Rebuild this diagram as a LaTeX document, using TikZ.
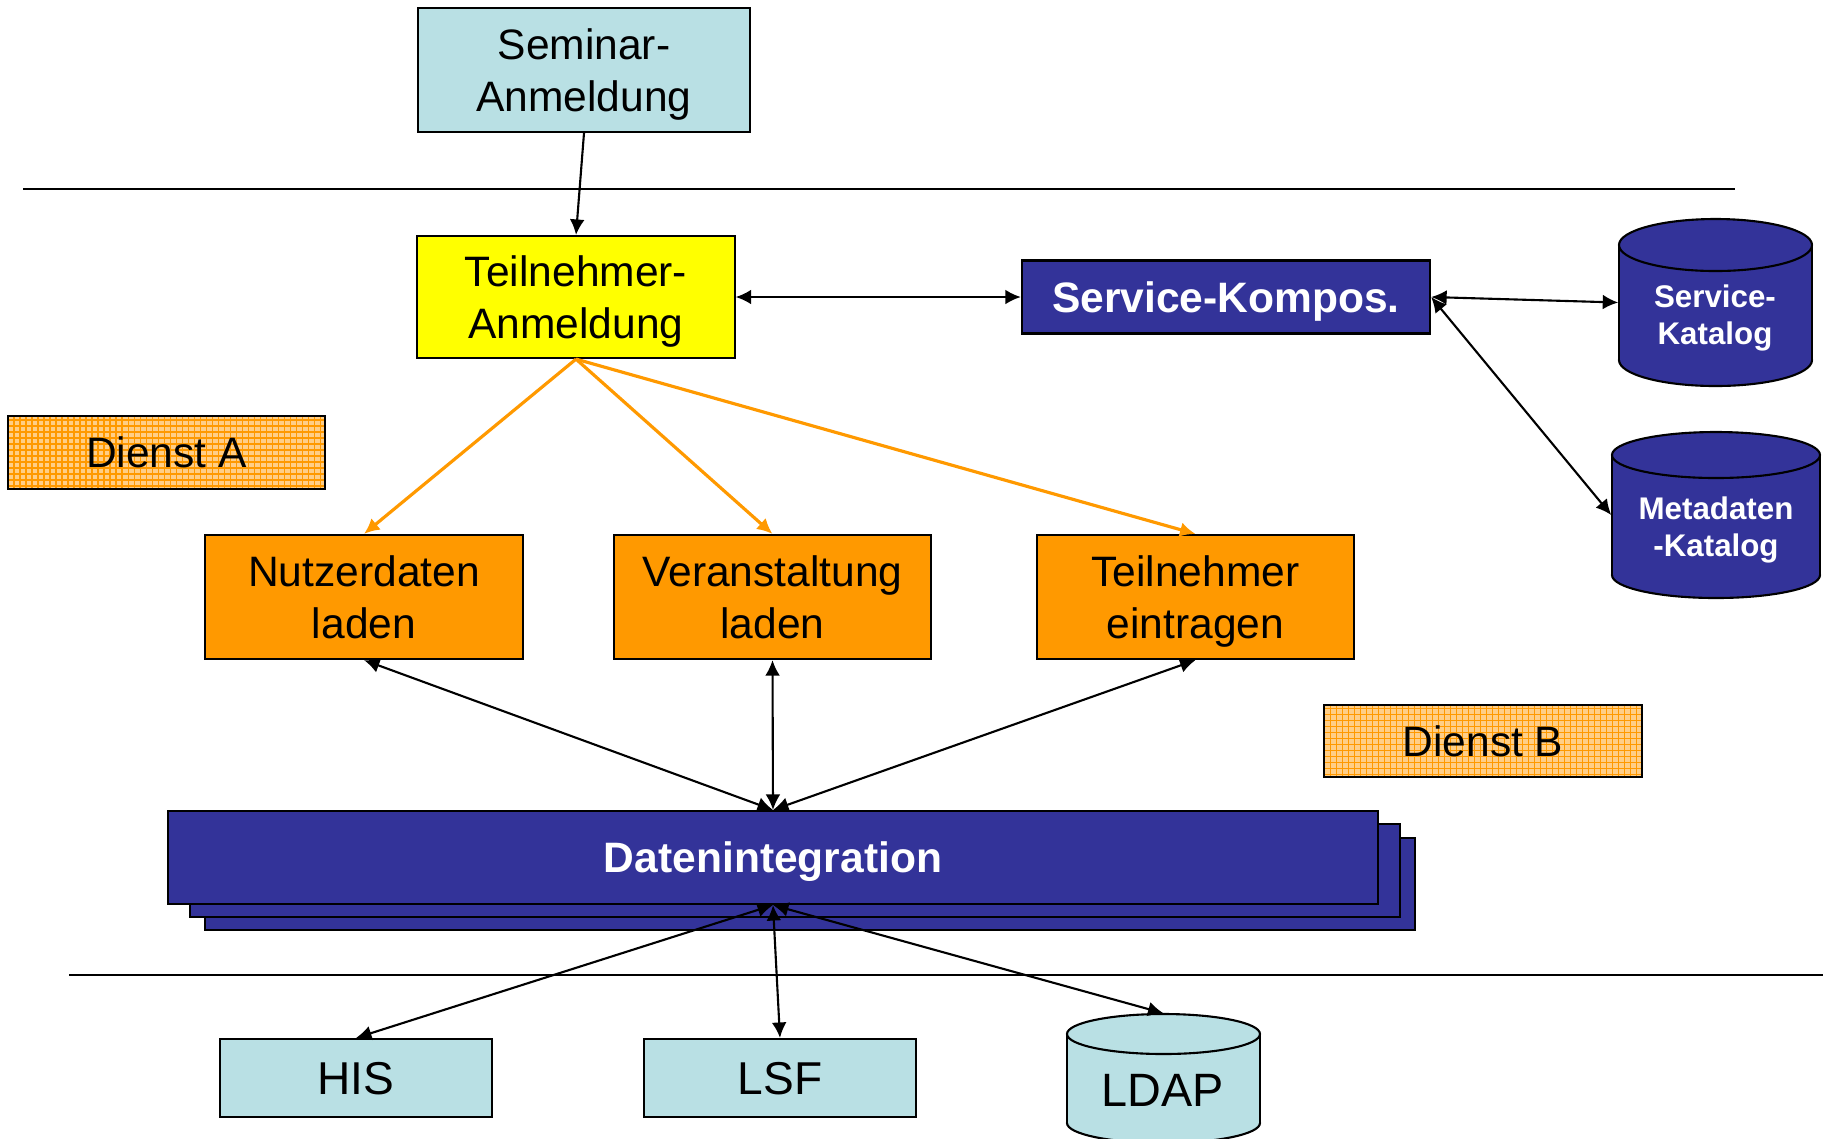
\documentclass[tikz,border=0pt]{standalone}
\usepackage{fontspec}
\setmainfont{Liberation Sans}
\usetikzlibrary{arrows.meta}

\definecolor{paleteal}{RGB}{185,224,228}
\definecolor{deepblue}{RGB}{51,51,153}
\definecolor{amber}{RGB}{255,153,0}
\definecolor{lightamber}{RGB}{255,206,135}
\definecolor{brightyellow}{RGB}{255,255,0}

% database drum: left x, right x, top y, bottom y, ellipse y radius, fill colour
\newcommand\drumshape[6]{%
  \filldraw[fill=#6, line width=0.6pt] ({(#1+#2)/2},{#4-#5}) ellipse [x radius={(#2-#1)/2}, y radius=#5];
  \fill[#6] (#1,{#3+#5}) rectangle (#2,{#4-#5});
  \draw[line width=0.6pt] (#1,{#3+#5}) -- (#1,{#4-#5}) (#2,{#3+#5}) -- (#2,{#4-#5});
  \filldraw[fill=#6, line width=0.6pt] ({(#1+#2)/2},{#3+#5}) ellipse [x radius={(#2-#1)/2}, y radius=#5];
}

\begin{document}
\begin{tikzpicture}[x=0.01cm, y=-0.01cm,
  base/.style={draw, line width=0.6pt, inner sep=0pt, align=center,
    text depth=0pt, font=\fontsize{12.1}{14.6}\selectfont},
  tealbox/.style={base, fill=paleteal},
  yellowbox/.style={base, fill=brightyellow},
  orangebox/.style={base, fill=amber},
  bluebox/.style={base, fill=deepblue, text=white,
    font=\fontsize{12.1}{14.6}\selectfont\bfseries},
  servicebox/.style={base, fill=lightamber,
    path picture={\draw[amber, line width=0.35pt]
      (path picture bounding box.south west) grid[step=0.06cm]
      (path picture bounding box.north east);}},
  sysbox/.style={tealbox, font=\fontsize{13.1}{15}\selectfont},
  drumanchor/.style={inner sep=0pt},
  drumtext/.style={inner sep=0pt, align=center, text=white,
    font=\fontsize{8.9}{10.6}\selectfont\bfseries},
  link/.style={draw, line width=0.6pt, -{Latex[length=4.4pt,width=4.2pt]}},
  dlink/.style={draw, line width=0.6pt,
    {Latex[length=4.4pt,width=4.2pt]}-{Latex[length=4.4pt,width=4.2pt]}},
  olink/.style={draw=amber, line width=0.9pt,
    -{Latex[length=4.4pt,width=4.2pt]}, color=amber},
  rule/.style={line width=0.6pt}
]
\useasboundingbox (0,0) rectangle (1829,1138);
\clip (0,0) rectangle (1829,1138);

% layer separators
\draw[rule] (23,189) -- (1735,189);
\draw[rule] (69,975) -- (1823,975);

% top layer
\node[tealbox, minimum width=3.32cm, minimum height=1.24cm] (sem) at (584,70) {Seminar-\\Anmeldung};

% composition layer
\node[yellowbox, minimum width=3.17cm, minimum height=1.22cm] (ta) at (576,297) {Teilnehmer-\\Anmeldung};
\node[bluebox, minimum width=4.08cm, minimum height=0.73cm] (komp) at (1226,297) {Service-Kompos.};

\drumshape{1619}{1812}{219}{386}{26}{deepblue}
\node[drumanchor, minimum width=1.93cm, minimum height=1.67cm] (scat) at (1715.5,302.5) {};
\node[drumtext] (scattext) at (1715,318) {Service-\\Katalog};

\drumshape{1612}{1820}{432}{598}{23}{deepblue}
\node[drumanchor, minimum width=2.08cm, minimum height=1.66cm] (mcat) at (1716,515) {};
\node[drumtext] (mcattext) at (1716,530) {Metadaten\\-Katalog};

\node[servicebox, minimum width=3.17cm, minimum height=0.73cm] (diensta) at (166.5,452.5) {Dienst A};
\node[servicebox, minimum width=3.18cm, minimum height=0.72cm] (dienstb) at (1483,741) {Dienst B};

% service layer
\node[orangebox, minimum width=3.18cm, minimum height=1.24cm] (nutz) at (364,597) {Nutzerdaten\\laden};
\node[orangebox, minimum width=3.17cm, minimum height=1.24cm] (veran) at (772.5,597) {Veranstaltung\\laden};
\node[orangebox, minimum width=3.17cm, minimum height=1.24cm] (eintr) at (1195.5,597) {Teilnehmer\\eintragen};

% integration layer (stacked sheets)
\filldraw[fill=deepblue, line width=0.6pt] (205,838) rectangle (1415,930);
\filldraw[fill=deepblue, line width=0.6pt] (190,824) rectangle (1400,917);
\node[bluebox, minimum width=12.10cm, minimum height=0.93cm] (di) at (773,857.5) {Datenintegration};

% source systems
\node[sysbox, minimum width=2.72cm, minimum height=0.78cm] (his) at (356,1078) {HIS};
\node[sysbox, minimum width=2.72cm, minimum height=0.78cm] (lsf) at (780,1078) {LSF};
\drumshape{1067}{1260}{1014}{1143}{20}{paleteal}
\node[drumanchor, minimum width=1.93cm, minimum height=1.29cm] (ldap) at (1163.5,1078.5) {};
\node[inner sep=0pt, font=\fontsize{13.3}{15}\selectfont] (ldaptext) at (1163,1090) {LDAP};

% connectors
\path[link] (sem.south) -- (ta.north);
\path[dlink] (ta.east) -- (komp.west);
\path[dlink] (komp.east) -- (scat.west);
\path[dlink] (komp.east) -- (mcat.west);

\path[olink] (ta.south) -- (nutz.north);
\path[olink] (ta.south) -- (veran.north);
\path[olink] (ta.south) -- (eintr.north);

\path[dlink] (nutz.south) -- (di.north);
\path[dlink] (veran.south) -- (di.north);
\path[dlink] (eintr.south) -- (di.north);

\path[dlink] (di.south) -- (his.north);
\path[dlink] (di.south) -- (lsf.north);
\path[dlink] (di.south) -- (ldap.north);
\end{tikzpicture}
\end{document}
